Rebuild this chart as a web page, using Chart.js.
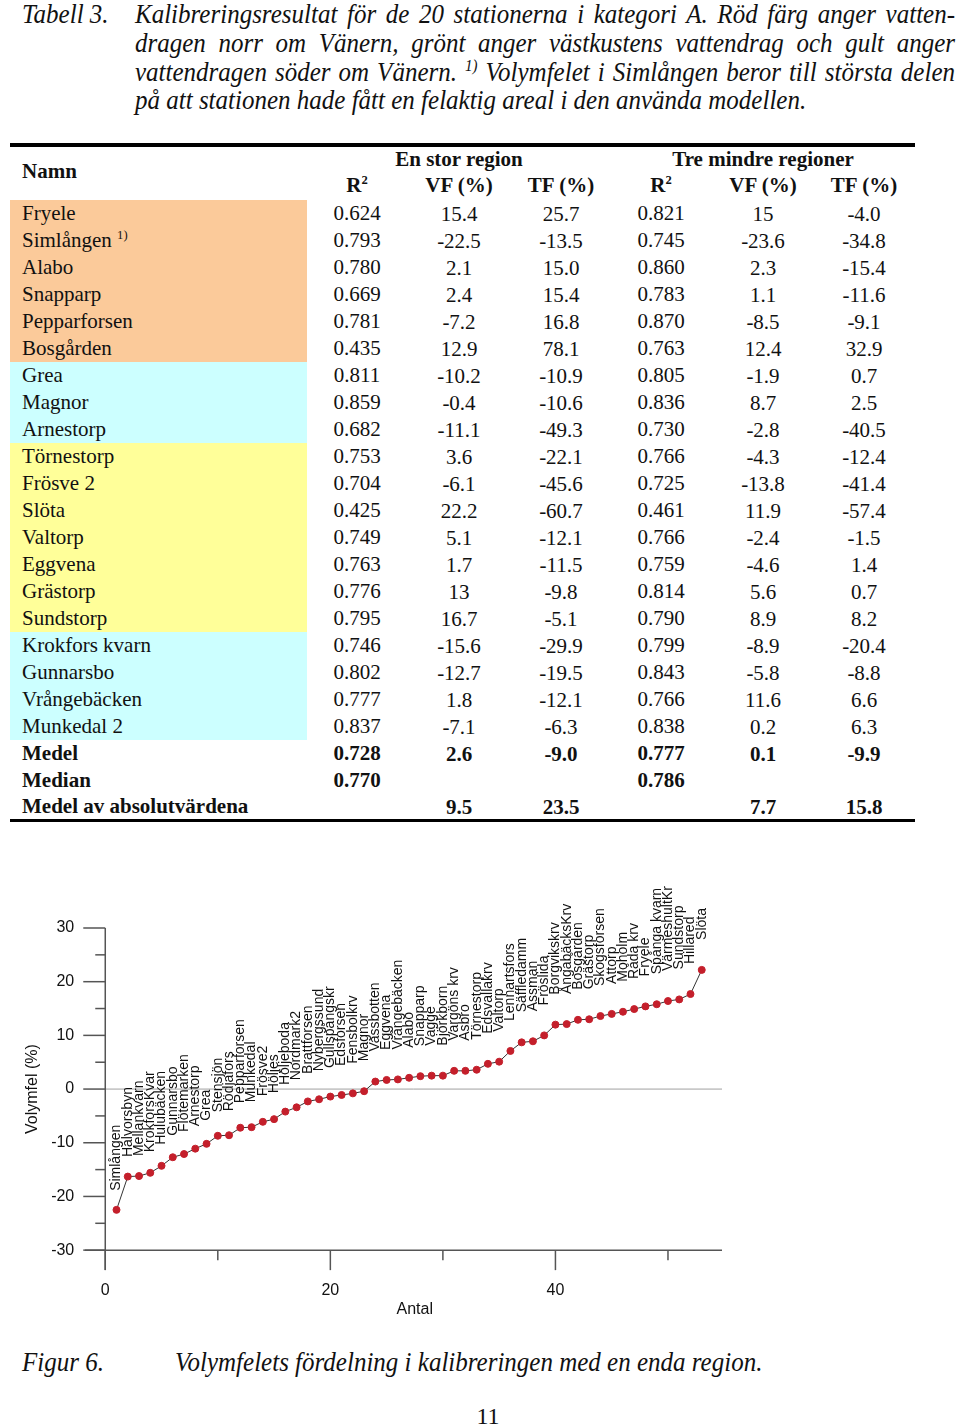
<!DOCTYPE html>
<html>
<head>
<meta charset="utf-8">
<script src="https://cdn.jsdelivr.net/npm/chart.js@4.4.1/dist/chart.umd.min.js"></script>
<style>
body { margin: 0; background: #fff; }
#page { position: relative; width: 960px; height: 1427px; overflow: hidden; background: #fff;
  font-family: "Liberation Serif", "Times New Roman", serif; color: #111; }
.cap { position: absolute; left: 0; top: 0; width: 960px; font-style: italic; font-size: 25px;
  transform: scaleY(1.06); transform-origin: 0 0; }
.capline { position: absolute; left: 135px; width: 820px; height: 27px; line-height: 27px;
  white-space: nowrap; text-align: justify; text-align-last: justify; }
.cell { position: absolute; font-size: 21px; line-height: 27px; height: 27px; white-space: nowrap; }
.mid { transform: translateX(-50%); }
.b { font-weight: bold; }
sup { font-size: 0.6em; vertical-align: 0.6em; line-height: 0; }
.rule { position: absolute; left: 10px; width: 905px; background: #000; }
#chartWrap { position: absolute; left: 0; top: 880px; width: 960px; height: 450px; }
</style>
</head>
<body>
<div id="page">
  <div class="cap">
    <div style="position:absolute;left:22px;top:0;line-height:27px;">Tabell 3.</div>
    <div class="capline" style="top:0">Kalibreringsresultat för de 20 stationerna i kategori A. Röd färg anger vatten-</div>
    <div class="capline" style="top:27px">dragen norr om Vänern, grönt anger västkustens vattendrag och gult anger</div>
    <div class="capline" style="top:54px">vattendragen söder om Vänern. <sup>1)</sup> Volymfelet i Simlången beror till största delen</div>
    <div class="capline" style="top:81px;text-align:left;text-align-last:left;">på att stationen hade fått en felaktig areal i den använda modellen.</div>
  </div>

  <div class="rule" style="top:143px;height:4px"></div>
  <div class="rule" style="top:819px;height:3px"></div>
  <div id="table"></div>

  <div id="chartWrap"><canvas id="chart" width="960" height="450"></canvas></div>

  <div class="cap" style="top:1348px">
    <div style="position:absolute;left:22px;top:0;line-height:27px;">Figur 6.</div>
    <div style="position:absolute;left:175px;top:0;line-height:27px;white-space:nowrap;">Volymfelets fördelning i kalibreringen med en enda region.</div>
  </div>
  <div style="position:absolute;left:488px;top:1403px;font-size:24px;transform:translateX(-50%);">11</div>
</div>

<script>
// ---- table data ----
const tableNames = ['Fryele', 'Simlången', 'Alabo', 'Snapparp', 'Pepparforsen', 'Bosgården',
  'Grea', 'Magnor', 'Arnestorp', 'Törnestorp', 'Frösve 2', 'Slöta', 'Valtorp', 'Eggvena',
  'Grästorp', 'Sundstorp', 'Krokfors kvarn', 'Gunnarsbo', 'Vrångebäcken', 'Munkedal 2'];
const tableRegions = ['N', 'N', 'N', 'N', 'N', 'N', 'V', 'V', 'V', 'S', 'S', 'S', 'S', 'S',
  'S', 'S', 'V', 'V', 'V', 'V'];
const r2One = ['0.624', '0.793', '0.780', '0.669', '0.781', '0.435', '0.811', '0.859', '0.682', '0.753',
  '0.704', '0.425', '0.749', '0.763', '0.776', '0.795', '0.746', '0.802', '0.777', '0.837'];
const vfOne = ['15.4', '-22.5', '2.1', '2.4', '-7.2', '12.9', '-10.2', '-0.4', '-11.1', '3.6',
  '-6.1', '22.2', '5.1', '1.7', '13', '16.7', '-15.6', '-12.7', '1.8', '-7.1'];
const tfOne = ['25.7', '-13.5', '15.0', '15.4', '16.8', '78.1', '-10.9', '-10.6', '-49.3', '-22.1',
  '-45.6', '-60.7', '-12.1', '-11.5', '-9.8', '-5.1', '-29.9', '-19.5', '-12.1', '-6.3'];
const r2Three = ['0.821', '0.745', '0.860', '0.783', '0.870', '0.763', '0.805', '0.836', '0.730', '0.766',
  '0.725', '0.461', '0.766', '0.759', '0.814', '0.790', '0.799', '0.843', '0.766', '0.838'];
const vfThree = ['15', '-23.6', '2.3', '1.1', '-8.5', '12.4', '-1.9', '8.7', '-2.8', '-4.3',
  '-13.8', '11.9', '-2.4', '-4.6', '5.6', '8.9', '-8.9', '-5.8', '11.6', '0.2'];
const tfThree = ['-4.0', '-34.8', '-15.4', '-11.6', '-9.1', '32.9', '0.7', '2.5', '-40.5', '-12.4',
  '-41.4', '-57.4', '-1.5', '1.4', '0.7', '8.2', '-20.4', '-8.8', '6.6', '6.3'];
const summaryNames = ['Medel', 'Median', 'Medel av absolutvärdena'];
const summaryValues = [
  ['0.728', '2.6', '-9.0', '0.777', '0.1', '-9.9'],
  ['0.770', '', '', '0.786', '', ''],
  ['', '9.5', '23.5', '', '7.7', '15.8']
];

// ---- chart data ----
const stations = ['Simlången', 'Halvorsbyn', 'Mellankvarn', 'KrokforsKvar', 'Hulubäcken', 'Gunnarsbo',
  'Flötemarken', 'Arnestorp', 'Grea', 'Stensjön', 'Rödjafors', 'Pepparforsen', 'Munkedal', 'Frösve2',
  'Höljes', 'Höljeboda', 'Nordmark2', 'Brattforsen', 'Nybergssund', 'Gullspångskr', 'Edsforsen',
  'Fensbolkrv', 'Magnor', 'Vassbotten', 'Eggvena', 'Vrångebäcken', 'Alabo', 'Snapparp', 'Vagge',
  'Björkborn', 'Vargöns krv', 'Asbro', 'Törnestorp', 'Edsvallakrv', 'Valtorp', 'Lennartsfors',
  'Säffledamm', 'Assman', 'Fröslida', 'Borgvikskrv', 'ÅngabäcksKrv', 'Bosgården', 'Grästorp',
  'Skogsforsen', 'Attorp', 'Moholm', 'Råda krv', 'Fryele', 'Spånga kvarn', 'VärmeshultKr',
  'Sundstorp', 'Hillared', 'Slöta'];
const volymfel = [-22.5, -16.3, -16.2, -15.6, -14.3, -12.7, -12.1, -11.1, -10.2, -8.7, -8.6, -7.2,
  -7.1, -6.1, -5.6, -4.2, -3.4, -2.3, -1.9, -1.4, -1.1, -0.8, -0.4, 1.4, 1.7, 1.8, 2.1, 2.4, 2.5,
  2.5, 3.4, 3.4, 3.6, 4.7, 5.1, 7.1, 8.7, 8.9, 10.0, 12.0, 12.1, 12.9, 13.0, 13.6, 14.0, 14.4,
  14.9, 15.4, 15.8, 16.4, 16.7, 17.7, 22.2];
const xTicks = [0, 20, 40];
const xMinorTicks = [10, 30, 50];
const yTicks = [-30, -20, -10, 0, 10, 20, 30];
const yMinorTicks = [-25, -15, -5, 5, 15, 25];

// ---- build table ----
const regionColors = { N: '#fbca9a', V: '#ccffff', S: '#ffff99' };
const colCenters = [357, 459, 561, 661, 763, 864];
const table = document.getElementById('table');

function addCell(text, left, top, cls, html) {
  const d = document.createElement('div');
  d.className = 'cell ' + (cls || '');
  d.style.left = left + 'px';
  d.style.top = top + 'px';
  if (html) d.innerHTML = text; else d.textContent = text;
  table.appendChild(d);
  return d;
}

// header
addCell('Namn', 22, 158, 'b');
addCell('En stor region', 459, 146, 'b mid');
addCell('Tre mindre regioner', 763, 146, 'b mid');
['R<sup>2</sup>', 'VF (%)', 'TF (%)', 'R<sup>2</sup>', 'VF (%)', 'TF (%)'].forEach((h, k) => {
  addCell(h, colCenters[k], 172, 'b mid', true);
});

tableNames.forEach((name, i) => {
  const top = 200 + 27 * i;
  const band = document.createElement('div');
  band.style.cssText = `position:absolute;left:10px;width:297px;top:${top}px;height:27px;background:${regionColors[tableRegions[i]]}`;
  table.appendChild(band);
  addCell(name === 'Simlången' ? 'Simlången <sup>1)</sup>' : name, 22, top, '', true);
  [r2One[i], vfOne[i], tfOne[i], r2Three[i], vfThree[i], tfThree[i]].forEach((v, k) => {
    addCell(v, colCenters[k], top + (k === 0 || k === 3 ? 0 : 1), 'mid');
  });
});

summaryNames.forEach((name, j) => {
  const top = 200 + 27 * (20 + j) - (j === 2 ? 1 : 0);
  addCell(name, 22, top, 'b');
  summaryValues[j].forEach((v, k) => {
    if (v) addCell(v, colCenters[k], top + (k === 0 || k === 3 ? 0 : 1), 'b mid');
  });
});

// ---- chart ----
const axesPlugin = {
  id: 'axes',
  beforeDatasetsDraw(chart) {
    const { ctx, chartArea, scales: { x, y } } = chart;
    const x0 = x.getPixelForValue(0);
    const yBase = y.getPixelForValue(-30);
    const seg = (a, b, c, d) => { ctx.beginPath(); ctx.moveTo(a, b); ctx.lineTo(c, d); ctx.stroke(); };
    ctx.save();
    // zero line
    ctx.strokeStyle = '#a0a0a0';
    ctx.lineWidth = 1;
    seg(x0, y.getPixelForValue(0), chartArea.right, y.getPixelForValue(0));
    // axes
    ctx.strokeStyle = '#555';
    ctx.lineWidth = 1.5;
    seg(x0, y.getPixelForValue(30), x0, chartArea.bottom);
    seg(chartArea.left, yBase, chartArea.right, yBase);
    yTicks.forEach(v => seg(x0 - 22, y.getPixelForValue(v), x0, y.getPixelForValue(v)));
    yMinorTicks.forEach(v => seg(x0 - 10, y.getPixelForValue(v), x0, y.getPixelForValue(v)));
    xTicks.forEach(v => seg(x.getPixelForValue(v), yBase, x.getPixelForValue(v), yBase + 20));
    xMinorTicks.forEach(v => seg(x.getPixelForValue(v), yBase, x.getPixelForValue(v), yBase + 10));
    // tick labels
    ctx.fillStyle = '#111';
    ctx.font = '16px "Liberation Sans", Arial, sans-serif';
    ctx.textAlign = 'right';
    ctx.textBaseline = 'middle';
    yTicks.forEach(v => ctx.fillText(String(v), x0 - 31, y.getPixelForValue(v)));
    ctx.textAlign = 'center';
    xTicks.forEach(v => ctx.fillText(String(v), x.getPixelForValue(v), yBase + 40));
    // axis titles
    ctx.fillText('Antal', x.getPixelForValue(27.5), yBase + 59);
    ctx.save();
    ctx.translate(33, y.getPixelForValue(0));
    ctx.rotate(-Math.PI / 2);
    ctx.fillText('Volymfel (%)', 0, 0);
    ctx.restore();
    ctx.restore();
  },
  afterDatasetsDraw(chart) {
    const { ctx } = chart;
    const meta = chart.getDatasetMeta(0);
    ctx.save();
    ctx.fillStyle = '#111';
    ctx.font = '14px "Liberation Sans", Arial, sans-serif';
    ctx.textAlign = 'left';
    ctx.textBaseline = 'middle';
    meta.data.forEach((pt, i) => {
      const gap = 19 + 11 * Math.min(1, i / 22);
      ctx.save();
      ctx.translate(pt.x, pt.y - gap);
      ctx.rotate(-Math.PI / 2);
      ctx.fillText(stations[i], 0, 0);
      ctx.restore();
    });
    ctx.restore();
  }
};

new Chart(document.getElementById('chart').getContext('2d'), {
  type: 'line',
  data: {
    datasets: [{
      data: volymfel.map((v, i) => ({ x: i + 1, y: v })),
      borderColor: '#333',
      borderWidth: 1,
      pointBackgroundColor: '#c41f2b',
      pointBorderColor: '#c41f2b',
      pointRadius: 3.5,
      tension: 0,
      clip: false
    }]
  },
  options: {
    responsive: false,
    animation: false,
    devicePixelRatio: 1,
    layout: { padding: { left: 85, right: 238, top: 48, bottom: 60 } },
    scales: {
      x: { type: 'linear', min: -1.8, max: 54.8, display: false },
      y: { min: -33.7, max: 30, display: false }
    },
    plugins: { legend: { display: false }, tooltip: { enabled: false } }
  },
  plugins: [axesPlugin]
});
</script>
</body>
</html>
